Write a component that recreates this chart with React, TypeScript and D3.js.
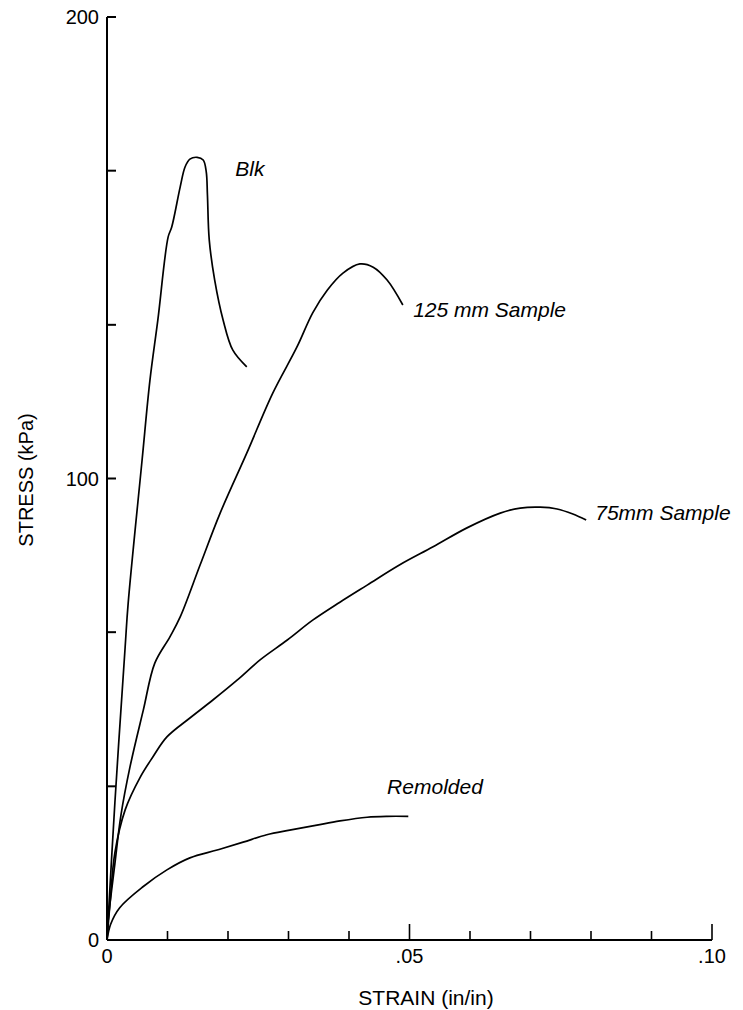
import React from 'react';
import * as d3 from 'd3';

// strain (in/in) vs stress (kPa)
const blkStrain = [0, 0.0013, 0.003, 0.0035, 0.0058, 0.0071, 0.0084, 0.0101, 0.0107, 0.0121, 0.0129, 0.0137, 0.0149, 0.0159, 0.0164, 0.0166, 0.0169, 0.0178, 0.0192, 0.0208, 0.0231];
const blkStress = [0, 29.7, 63.5, 73.0, 104.0, 121.3, 134.3, 152.3, 154.5, 163.2, 167.5, 169.2, 169.6, 169.0, 166.5, 161.5, 151.7, 143.0, 134.3, 127.8, 124.2];

const s125Strain = [0, 0.0002, 0.0013, 0.0023, 0.0038, 0.006, 0.0079, 0.0104, 0.0121, 0.0154, 0.0187, 0.0231, 0.0274, 0.0314, 0.034, 0.0364, 0.039, 0.0418, 0.044, 0.0463, 0.0489];
const s125Stress = [0, 4.3, 16.5, 27.0, 37.5, 49.8, 60.0, 65.7, 70.0, 81.3, 92.5, 105.5, 118.5, 128.5, 135.9, 140.8, 144.5, 146.5, 145.8, 143.0, 137.6];

const s75Strain = [0, 0.0005, 0.0013, 0.003, 0.0055, 0.0076, 0.0099, 0.0137, 0.0175, 0.0215, 0.0253, 0.0298, 0.034, 0.0385, 0.043, 0.0484, 0.0539, 0.0595, 0.065, 0.0683, 0.0716, 0.0744, 0.077, 0.0792];
const s75Stress = [0, 8.0, 18.9, 28.2, 35.3, 39.7, 44.0, 48.1, 52.0, 56.3, 60.7, 65.0, 69.3, 73.2, 76.9, 81.3, 85.2, 89.3, 92.5, 93.6, 93.8, 93.4, 92.3, 91.0];

const remStrain = [0, 0.0006, 0.0021, 0.006, 0.0099, 0.0137, 0.0182, 0.0225, 0.0264, 0.0302, 0.0347, 0.0385, 0.043, 0.0463, 0.0498];
const remStress = [0, 3.4, 7.0, 11.6, 15.2, 17.8, 19.5, 21.2, 22.8, 23.8, 24.9, 25.8, 26.6, 26.8, 26.8];

const curveNames = ['Blk', '125 mm Sample', '75mm Sample', 'Remolded'];

const yTicks = [0, 33.3, 66.7, 100, 133.3, 166.7, 200];
const yLabels = [0, 100, 200];
const xTicks = [0.01, 0.02, 0.03, 0.04, 0.05, 0.06, 0.07, 0.08, 0.09, 0.1];
const xMajor = [0.05, 0.1];
const xLabels = ['0', '.05', '.10'];
const xLabelVals = [0, 0.05, 0.1];

const W = 743;
const H = 1010;
const FONT = '"Liberation Sans", Arial, Helvetica, sans-serif';

export default function App() {
  const x = d3.scaleLinear().domain([0, 0.1]).range([107, 712]);
  const y = d3.scaleLinear().domain([0, 200]).range([940, 17]);

  const line = d3.line<[number, number]>()
    .x(d => x(d[0]))
    .y(d => y(d[1]))
    .curve(d3.curveCatmullRom.alpha(0.5));

  const series = [
    d3.zip(blkStrain, blkStress),
    d3.zip(s125Strain, s125Stress),
    d3.zip(s75Strain, s75Stress),
    d3.zip(remStrain, remStress),
  ] as [number, number][][];

  // label anchor points (data coords) next to each curve
  const labelPos: [number, number][] = [[0.0212, 165.5], [0.0506, 135], [0.0807, 91], [0.0463, 31.7]];

  return (
    <svg width={W} height={H} style={{ position: 'absolute', left: 0, top: 0, background: '#fff' }}
      fontFamily={FONT}>
      {/* axes */}
      <line x1={x(0)} x2={x(0)} y1={y(0)} y2={y(200)} stroke="#000" strokeWidth={2} />
      <line x1={x(0)} x2={x(0.1)} y1={y(0)} y2={y(0)} stroke="#000" strokeWidth={2} />
      {yTicks.map(t => (
        <line key={'yt' + t} x1={x(0)} x2={x(0) + 9} y1={y(t)} y2={y(t)} stroke="#000" strokeWidth={2} />
      ))}
      {xTicks.map(t => {
        const major = xMajor.some(m => Math.abs(m - t) < 1e-9);
        return <line key={'xt' + t} x1={x(t)} x2={x(t)} y1={y(0)} y2={y(0) - (major ? 16 : 9)} stroke="#000" strokeWidth={1.6} />;
      })}
      {yLabels.map(v => (
        <text key={'yl' + v} x={x(0) - 8} y={y(v) + 7} textAnchor="end" fontSize={20} fill="#000">{v}</text>
      ))}
      {xLabels.map((l, i) => (
        <text key={'xl' + l} x={x(xLabelVals[i])} y={y(0) + 23} textAnchor="middle" fontSize={20} fill="#000">{l}</text>
      ))}
      <text x={426} y={1005} textAnchor="middle" fontSize={21} fill="#000">STRAIN (in/in)</text>
      <text transform="translate(33,480) rotate(-90)" textAnchor="middle" fontSize={20} fill="#000">STRESS (kPa)</text>

      {/* curves */}
      {series.map((s, i) => (
        <path key={curveNames[i]} d={line(s) || ''} fill="none" stroke="#000" strokeWidth={1.7} />
      ))}
      {curveNames.map((n, i) => (
        <text key={'lab' + n} x={x(labelPos[i][0])} y={y(labelPos[i][1])} fontSize={21} fontStyle="italic" fill="#000">{n}</text>
      ))}
    </svg>
  );
}
